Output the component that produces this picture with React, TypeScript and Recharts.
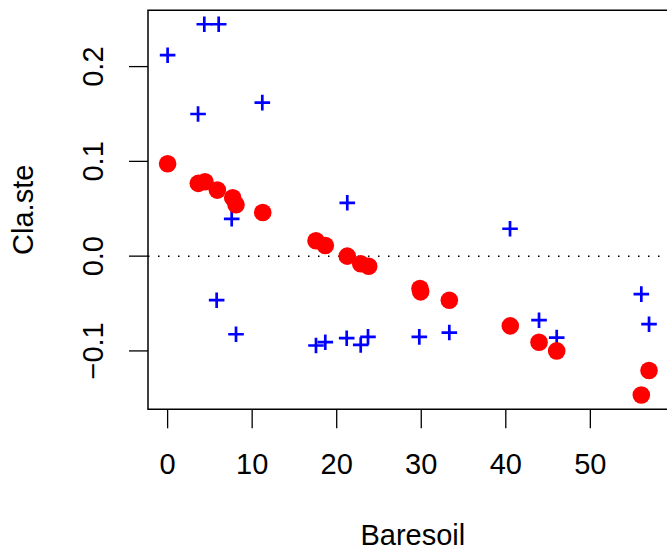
import React from "react";
import {
  ScatterChart,
  Scatter,
  XAxis,
  YAxis,
  ReferenceLine,
  ReferenceArea,
} from "recharts";

// Baresoil vs fitted Cla.ste (red) and residual-ish values (blue)
const redX = [0, 3.63, 4.42, 5.88, 7.7, 8.09, 11.25, 17.55, 18.65, 21.25, 22.84, 23.78, 29.85, 29.93, 33.32, 40.53, 43.93, 46.02, 56.94, 56.03];
const redY = [0.0975, 0.0768, 0.0785, 0.0697, 0.0616, 0.0542, 0.0461, 0.0162, 0.0113, 0.0, -0.0081, -0.0106, -0.0341, -0.0377, -0.0465, -0.0736, -0.0908, -0.1, -0.1207, -0.1465];

const blueX = [0, 4.34, 6.04, 3.6, 11.2, 21.25, 7.58, 5.8, 8.09, 17.55, 18.65, 21.18, 22.84, 23.7, 40.5, 29.77, 33.32, 43.93, 46.02, 56.03, 56.94];
const blueY = [0.212, 0.2447, 0.2447, 0.15, 0.162, 0.0563, 0.0394, -0.0465, -0.0824, -0.0943, -0.0908, -0.0866, -0.0937, -0.0852, 0.0289, -0.0852, -0.0806, -0.0676, -0.0859, -0.0401, -0.0718];

const xTicks = [0, 10, 20, 30, 40, 50];
const yTicks = [-0.1, 0, 0.1, 0.2];
const xDomain = [-2.32, 60.32];
const yDomain = [-0.1616, 0.2594];

const FONT = "'Liberation Sans', Arial, Helvetica, sans-serif";
const FS = 29;

const redData = redX.map((x, i) => ({ x, y: redY[i] }));
const blueData = blueX.map((x, i) => ({ x, y: blueY[i] }));

const Dot = (p: any) => <circle cx={p.cx} cy={p.cy} r={8.8} fill="#ff0000" />;

const Plus = (p: any) => (
  <g stroke="#0000ff" strokeWidth={2.7}>
    <line x1={p.cx - 7.8} x2={p.cx + 7.8} y1={p.cy} y2={p.cy} />
    <line x1={p.cx} x2={p.cx} y1={p.cy - 7.8} y2={p.cy + 7.8} />
  </g>
);

const fmtY = (v: number) => (v < 0 ? "\u2212" + Math.abs(v).toFixed(1) : v.toFixed(1));

const YTick = (p: any) => (
  <text
    x={103}
    y={p.y}
    transform={`rotate(-90, 103, ${p.y})`}
    textAnchor="middle"
    fontSize={FS}
    fontFamily={FONT}
    fill="#000"
  >
    {fmtY(p.payload.value)}
  </text>
);

export default function App() {
  return (
    <div style={{ position: "absolute", left: 0, top: 0, background: "#fff" }}>
      <ScatterChart
        width={667}
        height={551}
        margin={{ top: 10.3, right: -10.6, bottom: 0, left: 0 }}
      >
        <XAxis
          type="number"
          dataKey="x"
          domain={xDomain}
          ticks={xTicks}
          allowDataOverflow
          axisLine={false}
          tickLine={{ stroke: "#000", strokeWidth: 1.3 }}
          tickSize={19}
          tickMargin={25}
          height={141.7}
          tick={{ fontSize: FS, fontFamily: FONT, fill: "#000" }}
          label={(props: any) => {
            const vb = props.viewBox;
            return (
              <text
                x={vb.x + vb.width / 2}
                y={545}
                textAnchor="middle"
                fontSize={FS}
                fontFamily={FONT}
                fill="#000"
              >
                Baresoil
              </text>
            );
          }}
        />
        <YAxis
          type="number"
          dataKey="y"
          domain={yDomain}
          ticks={yTicks}
          allowDataOverflow
          axisLine={false}
          tickLine={{ stroke: "#000", strokeWidth: 1.3 }}
          tickSize={19}
          width={148}
          tick={<YTick />}
          label={(props: any) => {
            const vb = props.viewBox;
            const cy = vb.y + vb.height / 2;
            return (
              <text
                x={33}
                y={cy}
                transform={`rotate(-90, 33, ${cy})`}
                textAnchor="middle"
                fontSize={FS}
                fontFamily={FONT}
                fill="#000"
              >
                Cla.ste
              </text>
            );
          }}
        />
        <ReferenceArea
          x1={xDomain[0]}
          x2={xDomain[1]}
          y1={yDomain[0]}
          y2={yDomain[1]}
          fill="none"
          stroke="#000"
          strokeWidth={1.5}
          ifOverflow="visible"
        />
        <ReferenceLine
          y={0}
          stroke="#000"
          strokeWidth={1.5}
          strokeDasharray="1.5 8.5"
        />
        <Scatter data={blueData} shape={Plus} isAnimationActive={false} />
        <Scatter data={redData} shape={Dot} isAnimationActive={false} />
      </ScatterChart>
    </div>
  );
}
